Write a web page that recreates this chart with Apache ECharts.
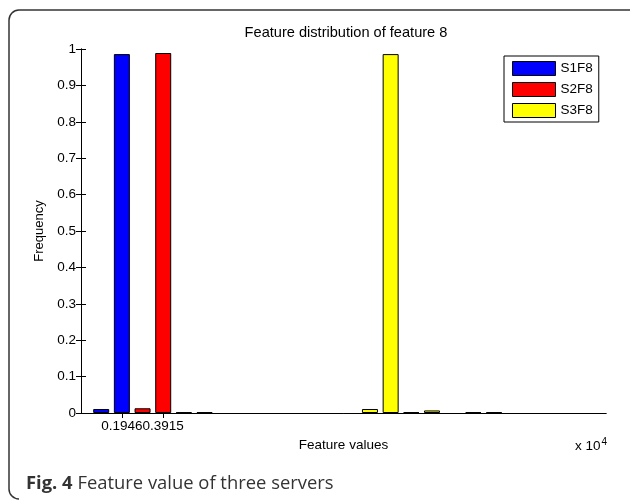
<!DOCTYPE html>
<html>
<head>
<meta charset="utf-8">
<script src="https://cdn.jsdelivr.net/npm/echarts@6/dist/echarts.min.js"></script>
<style>html,body{margin:0;padding:0;background:#fff}#c{width:630px;height:500px}</style>
</head>
<body>
<div id="c"></div>
<script>
// Values in units of x 10^4
var seriesNames = ['S1F8', 'S2F8', 'S3F8'];
var s1 = [[0.0962, 0.011], [0.1946, 0.986]];
var s2 = [[0.2931, 0.013], [0.3915, 0.989], [0.4900, 0.002], [0.5884, 0.002]];
var s3 = [[1.3760, 0.011], [1.4745, 0.986], [1.5729, 0.002], [1.6714, 0.007], [1.8683, 0.002], [1.9668, 0.002]];
var xTickValues = [0.1946, 0.3915];
var xTickLabels = ['0.1946', '0.3915'];
var colors = ['#0000ff', '#ff0000', '#ffff00'];

var FONT = 'Liberation Sans, Arial, sans-serif';
var chart = echarts.init(document.getElementById('c'), null, {renderer: 'canvas'});

function mkBar(name, data, color) {
  return {
    name: name, type: 'bar', data: data,
    barWidth: 16, barGap: '-100%',
    xAxisIndex: 0, yAxisIndex: 0,
    itemStyle: {color: color, borderColor: '#000', borderWidth: 1},
    emphasis: {disabled: true}
  };
}

var axisCommon = {
  axisLine: {show: true, lineStyle: {color: '#000', width: 1}},
  splitLine: {show: false}
};

var frameStyle = {fill: null, stroke: '#333', lineWidth: 1.5};

chart.setOption({
  animation: false,
  backgroundColor: '#fff',
  grid: {left: 81, right: 24, top: 49, bottom: 87},
  legend: {
    data: seriesNames, orient: 'vertical', left: 504, top: 56,
    itemWidth: 43, itemHeight: 14, itemGap: 6, padding: [5, 6, 4, 8],
    borderColor: '#000', borderWidth: 1, backgroundColor: '#fff',
    icon: 'rect', selectedMode: false,
    itemStyle: {borderColor: '#000', borderWidth: 1},
    textStyle: {fontFamily: FONT, fontSize: 13.5, color: '#000'}
  },
  xAxis: [
    Object.assign({}, axisCommon, {
      type: 'value', min: 0, max: 2.5, position: 'bottom',
      axisTick: {show: true, inside: true, length: 5, customValues: xTickValues, lineStyle: {color: '#000'}},
      axisLabel: {show: true, customValues: xTickValues, margin: 6, color: '#000', fontFamily: FONT, fontSize: 13.5,
        formatter: function (v) { var i = xTickValues.indexOf(v); return i >= 0 ? xTickLabels[i] : ''; }},
      name: 'Feature values', nameLocation: 'middle', nameGap: 23,
      nameTextStyle: {fontFamily: FONT, fontSize: 13.5, color: '#000'}
    }),
    Object.assign({}, axisCommon, {
      type: 'value', min: 0, max: 2.5, position: 'top',
      axisTick: {show: true, inside: true, length: 5, customValues: xTickValues, lineStyle: {color: '#000'}},
      axisLabel: {show: false}
    })
  ],
  yAxis: [
    Object.assign({}, axisCommon, {
      type: 'value', min: 0, max: 1, interval: 0.1, position: 'left',
      axisTick: {show: true, inside: true, length: 5, lineStyle: {color: '#000'}},
      axisLabel: {show: true, margin: 5, color: '#000', fontFamily: FONT, fontSize: 13.5},
      name: 'Frequency', nameLocation: 'middle', nameGap: 34,
      nameTextStyle: {fontFamily: FONT, fontSize: 13, color: '#000'}
    }),
    Object.assign({}, axisCommon, {
      type: 'value', min: 0, max: 1, interval: 0.1, position: 'right',
      axisTick: {show: true, inside: true, length: 5, lineStyle: {color: '#000'}},
      axisLabel: {show: false}
    })
  ],
  series: [
    mkBar(seriesNames[0], s1, colors[0]),
    mkBar(seriesNames[1], s2, colors[1]),
    mkBar(seriesNames[2], s3, colors[2])
  ],
  graphic: [
    {type: 'polyline', silent: true, shape: {points: [[632, 10], [19, 10]]}, style: frameStyle},
    {type: 'arc', silent: true, shape: {cx: 19, cy: 20, r: 10, startAngle: Math.PI, endAngle: Math.PI * 1.5}, style: frameStyle},
    {type: 'polyline', silent: true, shape: {points: [[9, 20], [9, 489]]}, style: frameStyle},
    {type: 'arc', silent: true, shape: {cx: 19, cy: 489, r: 10, startAngle: Math.PI * 0.5, endAngle: Math.PI}, style: frameStyle},
    {type: 'text', x: 346, y: 33, silent: true,
     style: {text: 'Feature distribution of feature 8', fontFamily: FONT, fontSize: 14.6, fill: '#000',
       align: 'center', verticalAlign: 'middle'}},
    {type: 'text', x: 607, y: 446, silent: true,
     style: {text: '{a|x 10}{s|4}', align: 'right', verticalAlign: 'middle',
       rich: {a: {fontFamily: FONT, fontSize: 13.5, fill: '#000'},
              s: {fontFamily: FONT, fontSize: 10, fill: '#000', verticalAlign: 'top', padding: [0, 0, 8, 1]}}}},
    {type: 'text', x: 26, y: 484, silent: true,
     style: {text: '{b|Fig. 4} Feature value of three servers', align: 'left', verticalAlign: 'middle',
       fontFamily: 'Open Sans, sans-serif', fontSize: 18.4, fill: '#333',
       rich: {b: {fontFamily: 'Open Sans, sans-serif', fontSize: 18.4, fontWeight: 'bold', fill: '#333'}}}}
  ]
});
</script>
</body>
</html>
